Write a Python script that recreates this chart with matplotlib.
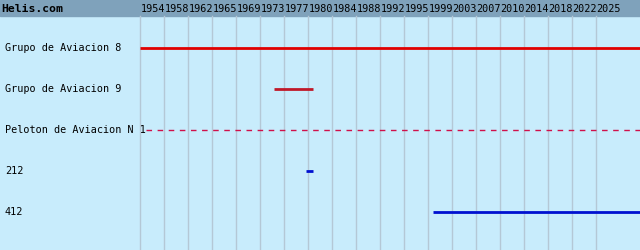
import matplotlib.pyplot as plt

# Unit history data (years)
units = ["Grupo de Aviacion 8", "Grupo de Aviacion 9", "Peloton de Aviacion N 1", "212", "412"]
starts = [1954.0, 1975.0, 1955.0, 1980.0, 1999.8]
ends = [2040, 1981.0, 2040, 1981.0, 2040]
colors = ["#e00000", "#c01828", "#d0104a", "#0010d0", "#0010d0"]
styles = ["-", "-", "--", "-", "-"]

tick_years = [1954, 1957.75, 1961.5, 1965.25, 1969, 1972.75, 1976.5, 1980.25, 1984, 1987.75,
              1991.5, 1995.25, 1999, 2002.75, 2006.5, 2010.25, 2014, 2017.75, 2021.5, 2025.25]
tick_labels = ["1954", "1958", "1962", "1965", "1969", "1973", "1977", "1980", "1984", "1988",
               "1992", "1995", "1999", "2003", "2007", "2010", "2014", "2018", "2022", "2025"]

fig = plt.figure(figsize=(6.4, 2.5), dpi=100)
ax = fig.add_axes([0, 0, 1, 1])
ax.set_xlim(1932.125, 2032.125)
ax.set_ylim(250, 0)
ax.axis("off")
ax.add_patch(plt.Rectangle((0, 0), 1, 1, transform=ax.transAxes, color="#c8ecfc", zorder=0))

# header band
ax.axhspan(0, 16, color="#7fa2bb", zorder=1)
ax.text(1932.125 + 0.15, 8.5, "Helis.com", family="DejaVu Sans Mono", weight="bold",
        fontsize=8.2, va="center", ha="left", zorder=3)

for yr, lab in zip(tick_years, tick_labels):
    ax.plot([yr, yr], [16, 250], color="#b4c8d6", lw=1, zorder=1)
    ax.text(yr + 0.1, 9, lab, family="DejaVu Sans Mono", fontsize=7.3,
            va="center", ha="left", zorder=3)

for i, name in enumerate(units):
    y = 48 + 41 * i
    ax.text(1932.125 + 0.75, y, name, family="DejaVu Sans Mono", fontsize=7.3,
            va="center", ha="left", zorder=3)
    if styles[i] == "--":
        ax.plot([starts[i], ends[i]], [y, y], color=colors[i], lw=1,
                ls=(0, (4, 4)), zorder=4)
    else:
        ax.plot([starts[i], ends[i]], [y, y], color=colors[i], lw=2,
                zorder=4, solid_capstyle="butt")

fig.savefig("out.png", dpi=100)
